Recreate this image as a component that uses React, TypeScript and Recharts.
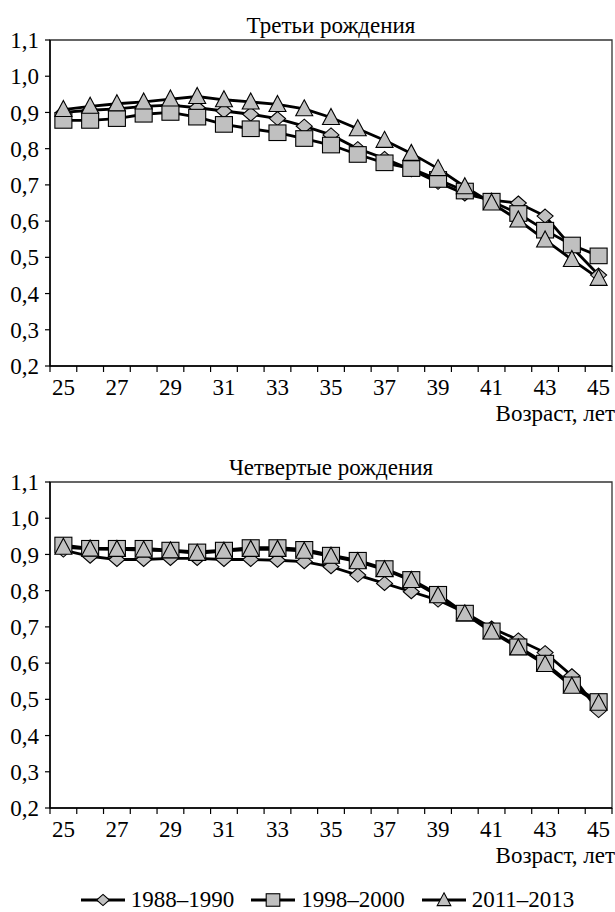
import React from 'react';
import { LineChart, Line, XAxis, YAxis, ReferenceArea } from 'recharts';

const FONT = "'Liberation Serif', 'DejaVu Serif', 'Noto Serif', serif";
const FS = 23;

// ages on the x axis, every other one is labelled
const AGES = [25, 26, 27, 28, 29, 30, 31, 32, 33, 34, 35, 36, 37, 38, 39, 40, 41, 42, 43, 44, 45];
const LABELED_AGES = [25, 27, 29, 31, 33, 35, 37, 39, 41, 43, 45];
const Y_TICKS = [0.2, 0.3, 0.4, 0.5, 0.6, 0.7, 0.8, 0.9, 1.0, 1.1];

// Третьи рождения
const THIRD_1988 = [0.9, 0.906, 0.91, 0.917, 0.92, 0.913, 0.904, 0.895, 0.883, 0.862, 0.838, 0.8, 0.773, 0.742, 0.707, 0.675, 0.658, 0.65, 0.614, 0.528, 0.451];
const THIRD_1998 = [0.878, 0.878, 0.883, 0.895, 0.9, 0.887, 0.867, 0.855, 0.844, 0.828, 0.81, 0.784, 0.761, 0.745, 0.715, 0.683, 0.655, 0.621, 0.575, 0.534, 0.504];
const THIRD_2011 = [0.908, 0.917, 0.924, 0.929, 0.937, 0.944, 0.935, 0.929, 0.922, 0.91, 0.886, 0.855, 0.823, 0.787, 0.745, 0.695, 0.65, 0.603, 0.548, 0.494, 0.442];

// Четвертые рождения
const FOURTH_1988 = [0.912, 0.895, 0.886, 0.886, 0.889, 0.889, 0.886, 0.886, 0.884, 0.88, 0.866, 0.843, 0.82, 0.797, 0.774, 0.74, 0.697, 0.664, 0.629, 0.565, 0.469];
const FOURTH_1998 = [0.926, 0.917, 0.917, 0.917, 0.912, 0.907, 0.912, 0.919, 0.919, 0.914, 0.898, 0.884, 0.861, 0.831, 0.79, 0.738, 0.689, 0.645, 0.6, 0.54, 0.494];
const FOURTH_2011 = [0.92, 0.915, 0.914, 0.912, 0.91, 0.903, 0.909, 0.914, 0.914, 0.909, 0.895, 0.88, 0.858, 0.828, 0.786, 0.736, 0.686, 0.642, 0.596, 0.536, 0.489];

const SERIES = [
  { key: 'd', name: '1988–1990', shape: 'diamond' },
  { key: 's', name: '1998–2000', shape: 'square' },
  { key: 't', name: '2011–2013', shape: 'triangle' },
];

const buildData = (d: number[], s: number[], t: number[]) =>
  AGES.map((age, i) => ({ age, d: d[i], s: s[i], t: t[i] }));

const THIRD_DATA = buildData(THIRD_1988, THIRD_1998, THIRD_2011);
const FOURTH_DATA = buildData(FOURTH_1988, FOURTH_1998, FOURTH_2011);

// tick marks sit between categories, labels at category centres
const X_TICKS = [...AGES.map((a) => a - 0.5), AGES[AGES.length - 1] + 0.5, ...LABELED_AGES].sort((a, b) => a - b);

const FILL = '#c0c0c0';

function Marker({ shape, cx, cy, scale = 1 }: { shape: string; cx: number; cy: number; scale?: number }) {
  if (cx == null || cy == null) return null;
  const st = { fill: FILL, stroke: '#000', strokeWidth: 1.1 };
  if (shape === 'square') {
    const w = 8.5 * scale;
    const h = 7.8 * scale;
    return <rect x={cx - w} y={cy - h} width={w * 2} height={h * 2} {...st} />;
  }
  if (shape === 'triangle') {
    const w = 8.5 * scale;
    return <polygon points={`${cx},${cy - 9 * scale} ${cx + w},${cy + 7 * scale} ${cx - w},${cy + 7 * scale}`} {...st} />;
  }
  const w = 8 * scale;
  const h = 7 * scale;
  return <polygon points={`${cx},${cy - h} ${cx + w},${cy} ${cx},${cy + h} ${cx - w},${cy}`} {...st} />;
}

function AgeTick({ x, y, payload }: any) {
  const v = payload.value;
  if (v % 1 !== 0) return <line x1={x} x2={x} y1={y} y2={y + 6} stroke="#000" strokeWidth={1.2} />;
  return (
    <text x={x} y={y + 29} textAnchor="middle" fontSize={FS} fontFamily={FONT} fill="#000">
      {v}
    </text>
  );
}

function Panel({ title, data, top }: { title: string; data: any[]; top: number }) {
  return (
    <div style={{ position: 'absolute', left: 0, top, width: 615, height: 440 }}>
      <div
        style={{
          position: 'absolute', left: 50, width: 562, top: 14, lineHeight: '24px',
          textAlign: 'center', fontSize: FS, fontFamily: FONT, color: '#000',
        }}
      >
        {title}
      </div>
      <LineChart width={615} height={440} data={data} margin={{ top: 40, right: 3, bottom: 14, left: 0 }}>
        <XAxis
          dataKey="age"
          type="number"
          domain={[24.5, 45.5]}
          ticks={X_TICKS}
          interval={0}
          tickSize={0}
          tickMargin={0}
          tickLine={false}
          axisLine={{ stroke: '#000', strokeWidth: 1.5 }}
          tick={<AgeTick />}
          height={60}
        />
        <YAxis
          type="number"
          domain={[0.2, 1.1]}
          ticks={Y_TICKS}
          interval={0}
          width={50}
          tickSize={5}
          tickMargin={6}
          tickFormatter={(v: number) => v.toFixed(1).replace('.', ',')}
          tick={{ fontSize: FS, fontFamily: FONT, fill: '#000' }}
          axisLine={{ stroke: '#000', strokeWidth: 1.5 }}
          tickLine={{ stroke: '#000', strokeWidth: 1.2 }}
        />
        <ReferenceArea x1={24.5} x2={45.5} y1={0.2} y2={1.1} fill="none" stroke="#333" strokeWidth={1.3} />
        {SERIES.map((s) => (
          <Line
            key={s.key}
            type="linear"
            dataKey={s.key}
            name={s.name}
            stroke="#000"
            strokeWidth={2.8}
            isAnimationActive={false}
            activeDot={false}
            dot={(p: any) => <Marker key={`${s.key}-${p.index}`} shape={s.shape} cx={p.cx} cy={p.cy} />}
          />
        ))}
      </LineChart>
      <div
        style={{
          position: 'absolute', right: 0, top: 402, lineHeight: '24px',
          fontSize: FS, fontFamily: FONT, color: '#000',
        }}
      >
        Возраст, лет
      </div>
    </div>
  );
}

export default function App() {
  return (
    <div style={{ position: 'absolute', left: 0, top: 0, width: 615, height: 912, background: '#fff' }}>
      <Panel title="Третьи рождения" data={THIRD_DATA} top={0} />
      <Panel title="Четвертые рождения" data={FOURTH_DATA} top={442} />
      <div
        style={{
          position: 'absolute', left: 0, width: 655, top: 888, display: 'flex', alignItems: 'center',
          justifyContent: 'center', gap: 17, fontSize: FS, fontFamily: FONT, lineHeight: '24px', color: '#000',
        }}
      >
        {SERIES.map((s) => (
          <div key={s.key} style={{ display: 'flex', alignItems: 'center', gap: 6 }}>
            <svg width={44} height={20}>
              <line x1={0} x2={44} y1={10} y2={10} stroke="#000" strokeWidth={2.8} />
              <Marker shape={s.shape} cx={22} cy={10} scale={0.8} />
            </svg>
            <span>{s.name}</span>
          </div>
        ))}
      </div>
    </div>
  );
}
